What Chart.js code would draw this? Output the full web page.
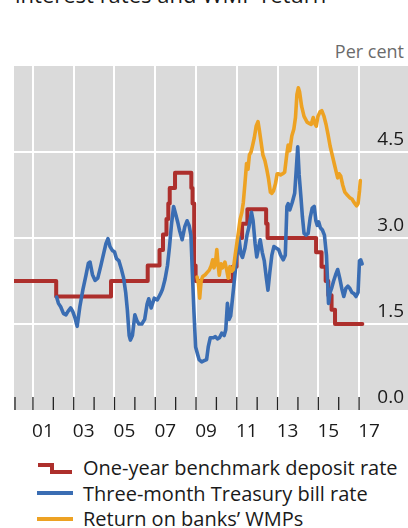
<!DOCTYPE html>
<html>
<head>
<meta charset="utf-8">
<script src="https://cdn.jsdelivr.net/npm/chart.js@4.4.0/dist/chart.umd.min.js"></script>
<style>
html, body { margin: 0; padding: 0; background: #fff; width: 408px; height: 528px; overflow: hidden;
  font-family: 'Open Sans', sans-serif; color: #1a1a1a; }
#title { position: absolute; left: 15px; top: -21px; font-size: 22px; line-height: 30px; white-space: nowrap; }
#unit { position: absolute; right: 4px; top: 39px; font-size: 18px; color: #6b6b6b; }
#wrap { position: absolute; left: 0; top: 0; width: 408px; height: 445px; }
#legend { position: absolute; left: 37px; top: 455px; font-size: 20px; line-height: 25.5px; }
.row { display: flex; align-items: center; height: 25.5px; white-space: nowrap; }
.sw { width: 36px; height: 16px; margin-right: 10px; flex: none; }
</style>
</head>
<body>
<div id="title">interest rates and WMP return</div>
<div id="unit">Per cent</div>
<div id="wrap"><canvas id="chart"></canvas></div>
<div id="legend"></div>

<script>
// ---- data (decimal years, per cent) ----
const depositDates = [2000.0, 2002.14, 2004.83, 2006.63, 2007.21, 2007.38, 2007.55, 2007.64, 2007.71, 2007.97,
  2008.77, 2008.83, 2008.91, 2008.98, 2010.8, 2010.99, 2011.11, 2011.26, 2011.52, 2012.44, 2012.51,
  2014.89, 2015.16, 2015.36, 2015.49, 2015.65, 2015.82, 2017.16];
const depositRates = [2.25, 1.98, 2.25, 2.52, 2.79, 3.06, 3.33, 3.60, 3.87, 4.14,
  3.87, 3.60, 2.52, 2.25, 2.50, 2.75, 3.00, 3.25, 3.50, 3.25, 3.00,
  2.75, 2.50, 2.25, 2.00, 1.75, 1.50, 1.50];

const billDates = [2002.16, 2002.25, 2002.36, 2002.5, 2002.62, 2002.72, 2002.85, 2002.95, 2003.05, 2003.17,
  2003.3, 2003.45, 2003.6, 2003.72, 2003.8, 2003.92, 2004.05, 2004.18, 2004.32, 2004.45,
  2004.58, 2004.68, 2004.78, 2004.9, 2005.0, 2005.1, 2005.22, 2005.35, 2005.45, 2005.55,
  2005.63, 2005.72, 2005.78, 2005.88, 2006.0, 2006.1, 2006.2, 2006.34, 2006.48, 2006.6,
  2006.68, 2006.8, 2006.95, 2007.1, 2007.25, 2007.35, 2007.48, 2007.6, 2007.7, 2007.8,
  2007.9, 2008.0, 2008.1, 2008.2, 2008.32, 2008.45, 2008.56, 2008.66, 2008.75, 2008.82,
  2008.9, 2008.98, 2009.07, 2009.15, 2009.28, 2009.4, 2009.52, 2009.6, 2009.7, 2009.85,
  2009.95, 2010.05, 2010.15, 2010.26, 2010.38, 2010.46, 2010.54, 2010.62, 2010.7, 2010.8,
  2010.92, 2011.0, 2011.1, 2011.2, 2011.28, 2011.4, 2011.5, 2011.6, 2011.72, 2011.8,
  2011.9, 2011.98, 2012.08, 2012.15, 2012.25, 2012.35, 2012.45, 2012.53, 2012.62, 2012.72,
  2012.82, 2012.95, 2013.05, 2013.15, 2013.28, 2013.38, 2013.46, 2013.52, 2013.6, 2013.72,
  2013.84, 2013.92, 2013.99, 2014.06, 2014.15, 2014.22, 2014.3, 2014.4, 2014.5, 2014.6,
  2014.7, 2014.8, 2014.88, 2014.95, 2015.02, 2015.1, 2015.2, 2015.3, 2015.4, 2015.46,
  2015.5, 2015.58, 2015.65, 2015.75, 2015.85, 2015.95, 2016.05, 2016.15, 2016.25, 2016.35,
  2016.45, 2016.55, 2016.65, 2016.75, 2016.85, 2016.95, 2017.02, 2017.08, 2017.15];
const billRates = [1.97, 1.86, 1.80, 1.68, 1.66, 1.72, 1.78, 1.72, 1.62, 1.46,
  1.80, 2.10, 2.35, 2.56, 2.58, 2.36, 2.26, 2.30, 2.50, 2.70,
  2.90, 2.99, 2.85, 2.78, 2.76, 2.64, 2.60, 2.44, 2.30, 2.05,
  1.75, 1.30, 1.22, 1.30, 1.66, 1.56, 1.50, 1.50, 1.58, 1.85,
  1.94, 1.78, 1.95, 1.92, 2.02, 2.10, 2.28, 2.52, 2.85, 3.25,
  3.55, 3.42, 3.28, 3.12, 2.97, 3.20, 3.30, 3.22, 3.05, 2.40,
  1.70, 1.10, 0.98, 0.88, 0.84, 0.86, 0.88, 1.10, 1.26, 1.26,
  1.28, 1.24, 1.26, 1.34, 1.30, 1.40, 1.86, 1.58, 1.64, 1.98,
  2.40, 2.70, 3.02, 2.72, 2.66, 2.82, 3.05, 3.20, 3.45, 3.30,
  2.90, 2.67, 2.85, 2.97, 2.75, 2.60, 2.30, 2.09, 2.40, 2.70,
  2.85, 2.82, 2.80, 2.70, 2.62, 2.70, 3.55, 3.60, 3.49, 3.62,
  3.78, 4.20, 4.59, 4.10, 3.70, 3.37, 3.08, 3.05, 3.08, 3.35,
  3.52, 3.55, 3.30, 3.22, 3.28, 3.18, 3.14, 3.05, 2.70, 2.20,
  1.86, 2.05, 2.12, 2.25, 2.36, 2.45, 2.30, 2.12, 1.98, 2.12,
  2.16, 2.12, 2.05, 2.03, 1.98, 2.05, 2.60, 2.62, 2.55];

const wmpDates = [2009.05, 2009.12, 2009.18, 2009.25, 2009.33, 2009.45, 2009.55, 2009.65, 2009.75, 2009.82,
  2009.88, 2009.95, 2010.02, 2010.08, 2010.14, 2010.22, 2010.3, 2010.42, 2010.5, 2010.58,
  2010.66, 2010.75, 2010.83, 2010.92, 2011.0, 2011.08, 2011.16, 2011.25, 2011.32, 2011.4,
  2011.48, 2011.55, 2011.62, 2011.7, 2011.78, 2011.86, 2011.95, 2012.04, 2012.1, 2012.18,
  2012.28, 2012.38, 2012.47, 2012.55, 2012.65, 2012.72, 2012.8, 2012.9, 2012.98, 2013.05,
  2013.15, 2013.25, 2013.35, 2013.45, 2013.52, 2013.6, 2013.7, 2013.8, 2013.88, 2013.95,
  2014.02, 2014.08, 2014.18, 2014.3, 2014.45, 2014.55, 2014.65, 2014.75, 2014.82, 2014.9,
  2014.98, 2015.08, 2015.17, 2015.28, 2015.38, 2015.48, 2015.58, 2015.68, 2015.78, 2015.88,
  2015.95, 2016.02, 2016.1, 2016.2, 2016.3, 2016.42, 2016.55, 2016.65, 2016.75, 2016.88,
  2016.95, 2017.02, 2017.06];
const wmpRates = [2.32, 2.20, 1.95, 2.25, 2.33, 2.36, 2.40, 2.44, 2.52, 2.62,
  2.48, 2.55, 2.80, 2.55, 2.35, 2.55, 2.48, 2.58, 2.45, 2.30,
  2.50, 2.42, 2.45, 2.70, 2.90, 3.10, 3.32, 3.45, 3.62, 3.95,
  4.30, 4.20, 4.45, 4.50, 4.62, 4.75, 4.95, 5.03, 4.90, 4.70,
  4.45, 4.35, 4.20, 4.05, 3.80, 3.78, 3.82, 3.95, 4.12, 4.12,
  4.10, 4.12, 4.15, 4.45, 4.62, 4.52, 4.78, 4.90, 5.10, 5.50,
  5.62, 5.55, 5.30, 5.12, 5.02, 5.00, 4.98, 5.10, 5.00, 4.95,
  5.12, 5.20, 5.22, 5.12, 4.98, 4.80, 4.60, 4.45, 4.30, 4.15,
  4.05, 4.12, 4.08, 3.92, 3.80, 3.75, 3.70, 3.68, 3.62, 3.56,
  3.60, 3.82, 4.00];

const seriesNames = ['One-year benchmark deposit rate', 'Three-month Treasury bill rate', 'Return on banks\u2019 WMPs'];
const seriesColors = ['#ad2f2c', '#3a6db3', '#eda223'];
const xLabelYears = [2001, 2003, 2005, 2007, 2009, 2011, 2013, 2015, 2017];
const tickYears = [2000, 2001, 2002, 2003, 2004, 2005, 2006, 2007, 2008, 2009,
  2010, 2011, 2012, 2013, 2014, 2015, 2016, 2017];
const yTickValues = [0, 1.5, 3, 4.5, 6];

function pts(xs, ys) { return xs.map((x, i) => ({ x: x, y: ys[i] })); }

Chart.defaults.font.family = "'Open Sans', sans-serif";
Chart.defaults.color = '#1a1a1a';

// grey plot background
const plotBg = {
  id: 'plotBg',
  beforeDraw(chart) {
    const a = chart.chartArea, c = chart.ctx;
    c.save();
    c.fillStyle = '#dadada';
    c.fillRect(a.left, a.top, a.right - a.left, a.bottom - a.top);
    c.restore();
  }
};

// small yearly tick marks standing on the bottom of the plot
const yearTicks = {
  id: 'yearTicks',
  beforeDatasetsDraw(chart) {
    const a = chart.chartArea, c = chart.ctx, sx = chart.scales.x;
    c.save();
    c.strokeStyle = '#222';
    c.lineWidth = 1.3;
    tickYears.forEach(yr => {
      const px = Math.max(sx.getPixelForValue(yr), a.left + 1);
      c.beginPath();
      c.moveTo(px, a.bottom - 13);
      c.lineTo(px, a.bottom);
      c.stroke();
    });
    c.restore();
  }
};

new Chart(document.getElementById('chart'), {
  type: 'line',
  data: {
    datasets: [
      { label: seriesNames[0], data: pts(depositDates, depositRates), borderColor: seriesColors[0],
        borderWidth: 4, stepped: 'before', order: 3 },
      { label: seriesNames[1], data: pts(billDates, billRates), borderColor: seriesColors[1],
        borderWidth: 3.6, order: 2 },
      { label: seriesNames[2], data: pts(wmpDates, wmpRates), borderColor: seriesColors[2],
        borderWidth: 3.6, order: 1 }
    ]
  },
  options: {
    responsive: true,
    maintainAspectRatio: false,
    animation: false,
    devicePixelRatio: 1,
    layout: { padding: { top: 66, left: 14, right: 0, bottom: 0 } },
    elements: { point: { radius: 0 }, line: { tension: 0, borderJoinStyle: 'round', borderCapStyle: 'round' } },
    plugins: { legend: { display: false }, tooltip: { enabled: false } },
    scales: {
      x: {
        type: 'linear',
        min: 2000.07,
        max: 2019.4,
        afterBuildTicks: s => { s.ticks = xLabelYears.map(v => ({ value: v })); },
        afterFit: s => { s.height = 35; },
        grid: { color: '#ffffff', lineWidth: 2, drawTicks: false },
        border: { display: false },
        ticks: {
          autoSkip: false, maxRotation: 0, padding: 10, labelOffset: 10,
          font: { size: 19 },
          callback: v => String(v % 100).padStart(2, '0')
        }
      },
      y: {
        position: 'right',
        min: 0,
        max: 6,
        afterBuildTicks: s => { s.ticks = yTickValues.map(v => ({ value: v })); },
        afterFit: s => { s.width = 0; },
        grid: {
          color: c => (c.tick && c.tick.value > 0 && c.tick.value < 6) ? '#ffffff' : 'rgba(0,0,0,0)',
          lineWidth: 2, drawTicks: false
        },
        border: { display: false },
        ticks: {
          mirror: true, padding: -4, labelOffset: -12, autoSkip: false,
          font: { size: 19 },
          callback: v => v >= 6 ? '' : v.toFixed(1)
        }
      }
    }
  },
  plugins: [plotBg, yearTicks]
});

// legend rows
const legend = document.getElementById('legend');
seriesNames.forEach((name, i) => {
  const row = document.createElement('div');
  row.className = 'row';
  const sym = i === 0
    ? '<polyline points="1,5 15,5 15,12 35,12" fill="none" stroke="' + seriesColors[i] + '" stroke-width="4"/>'
    : '<line x1="0" y1="8" x2="36" y2="8" stroke="' + seriesColors[i] + '" stroke-width="4"/>';
  row.innerHTML = '<svg class="sw" viewBox="0 0 36 16">' + sym + '</svg><span>' + name + '</span>';
  legend.appendChild(row);
});
</script>
</body>
</html>
